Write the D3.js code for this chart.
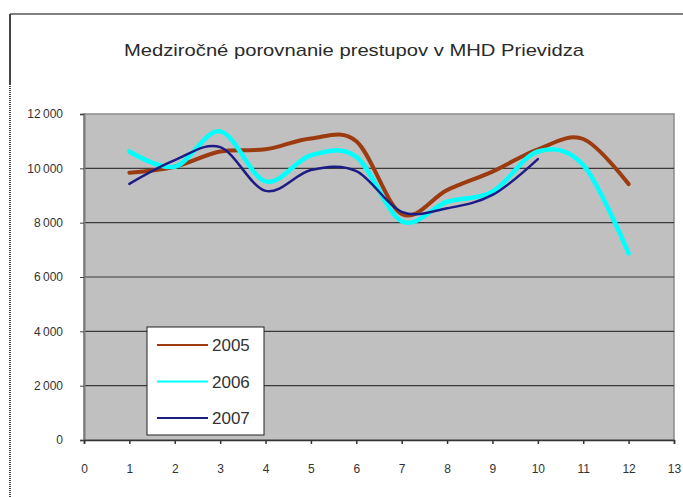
<!DOCTYPE html>
<html>
<head>
<meta charset="utf-8">
<script src="https://cdn.jsdelivr.net/npm/d3@7/dist/d3.min.js"></script>
<style>
  html, body { margin: 0; padding: 0; background: #fff; }
  svg { display: block; }
  text { font-family: "Liberation Sans", Arial, sans-serif; fill: #333; }
</style>
</head>
<body>
<svg id="chart" width="683" height="497"></svg>
<script>
const title = "Medziročné porovnanie prestupov v MHD Prievidza";
const months = [1, 2, 3, 4, 5, 6, 7, 8, 9, 10, 11, 12];
const seriesNames = ["2005", "2006", "2007"];
const values2005 = [9840, 10060, 10620, 10700, 11100, 11000, 8320, 9200, 9880, 10700, 11080, 9420];
const values2006 = [10620, 10060, 11360, 9520, 10480, 10420, 8050, 8770, 9140, 10620, 10120, 6870];
const values2007 = [9430, 10300, 10780, 9170, 9940, 9900, 8400, 8530, 9020, 10340];
const xTicks = [0, 1, 2, 3, 4, 5, 6, 7, 8, 9, 10, 11, 12, 13];
const yTicks = [0, 2000, 4000, 6000, 8000, 10000, 12000];
const colors = ["#9c3a10", "#00ffff", "#1c1c86"];
const widths = [4, 4.5, 2.5];

const svg = d3.select("#chart");
const plot = { left: 84, right: 674, top: 114, bottom: 440 };

const x = d3.scaleLinear().domain([0, 13]).range([plot.left, plot.right]);
const y = d3.scaleLinear().domain([0, 12000]).range([plot.bottom, plot.top]);

// outer frame
svg.append("line").attr("x1", 10).attr("x2", 683).attr("y1", 14).attr("y2", 14)
  .attr("stroke", "#555").attr("stroke-width", 1.5);
svg.append("line").attr("x1", 10).attr("x2", 10).attr("y1", 14).attr("y2", 84)
  .attr("stroke", "#444").attr("stroke-width", 2);
svg.append("line").attr("x1", 10).attr("x2", 10).attr("y1", 84).attr("y2", 497)
  .attr("stroke", "#444").attr("stroke-width", 2).attr("stroke-dasharray", "1,1");

// title
svg.append("text").attr("x", 354).attr("y", 56).attr("text-anchor", "middle")
  .attr("font-size", 17).attr("textLength", 460).attr("lengthAdjust", "spacingAndGlyphs")
  .style("fill", "#2a2a2a").text(title);

// plot area
svg.append("rect").attr("x", plot.left).attr("y", plot.top)
  .attr("width", plot.right - plot.left).attr("height", plot.bottom - plot.top)
  .attr("fill", "#c0c0c0").attr("stroke", "#8a8a8a").attr("stroke-width", 1.5);

// gridlines
svg.append("g").selectAll("line").data(yTicks.filter(d => d > 0 && d < 12000)).join("line")
  .attr("x1", plot.left).attr("x2", plot.right)
  .attr("y1", d => y(d)).attr("y2", d => y(d))
  .attr("stroke", "#3a3a3a").attr("stroke-width", 1.2);

// y axis
const fmt = d => d === 0 ? "0" : d3.format(",")(d).replace(",", "\u2009");
const yAxis = svg.append("g").attr("transform", `translate(${plot.left},0)`)
  .call(d3.axisLeft(y).tickValues(yTicks).tickSize(4).tickPadding(17).tickFormat(fmt));
yAxis.select(".domain").attr("stroke", "#7a7a7a").attr("stroke-width", 2);
yAxis.selectAll(".tick line").attr("stroke", "#444");
yAxis.selectAll("text").attr("font-size", 12).style("fill", "#333")
  .attr("font-family", "Liberation Sans, Arial, sans-serif");

// x axis
const xAxis = svg.append("g").attr("transform", `translate(0,${plot.bottom})`)
  .call(d3.axisBottom(x).tickValues(xTicks).tickSize(4).tickPadding(20).tickFormat(d3.format("d")));
xAxis.select(".domain").attr("stroke", "#333").attr("stroke-width", 1.5);
xAxis.selectAll(".tick line").attr("stroke", "#333").attr("stroke-width", 1.5);
xAxis.selectAll("text").attr("font-size", 12).style("fill", "#333")
  .attr("font-family", "Liberation Sans, Arial, sans-serif");

// lines
const line = d3.line().x(d => x(d[0])).y(d => y(d[1])).curve(d3.curveCatmullRom.alpha(0));
const allSeries = [values2005, values2006, values2007];
allSeries.forEach((vals, i) => {
  const pts = vals.map((v, j) => [months[j], v]);
  svg.append("path").datum(pts).attr("d", line)
    .attr("fill", "none").attr("stroke", colors[i]).attr("stroke-width", widths[i])
    .attr("stroke-linecap", "round").attr("stroke-linejoin", "round");
});

// legend
const lg = svg.append("g");
lg.append("rect").attr("x", 147).attr("y", 327).attr("width", 117).attr("height", 108)
  .attr("fill", "#fff").attr("stroke", "#222").attr("stroke-width", 1);
seriesNames.forEach((name, i) => {
  const ly = 345 + i * 36.5;
  lg.append("line").attr("x1", 157).attr("x2", 208).attr("y1", ly).attr("y2", ly)
    .attr("stroke", colors[i]).attr("stroke-width", 2);
  lg.append("text").attr("x", 212).attr("y", ly + 6).attr("font-size", 17)
    .style("fill", "#333").text(name);
});
</script>
</body>
</html>
